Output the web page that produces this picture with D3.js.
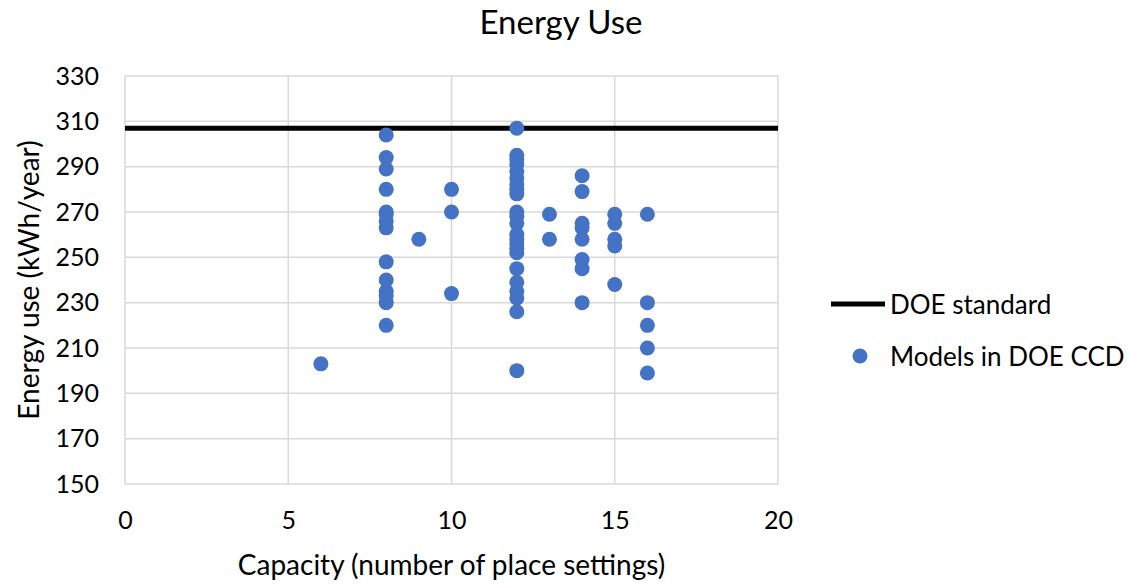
<!DOCTYPE html>
<html>
<head>
<meta charset="utf-8">
<script src="https://cdn.jsdelivr.net/npm/d3@7"></script>
<style>
  body { margin: 0; background: #fff; }
  text { font-family: Lato, "Open Sans", sans-serif; fill: #000; }
</style>
</head>
<body>
<div id="chart-area"></div>
<script>
// capacity (place settings) and energy use (kWh/year) for each model
var capacity = [6,
    8, 8, 8, 8, 8, 8, 8, 8, 8, 8, 8, 8, 8, 8,
    9,
    10, 10, 10,
    12, 12, 12, 12, 12, 12, 12, 12, 12, 12, 12, 12, 12, 12, 12, 12, 12, 12, 12, 12, 12, 12, 12,
    13, 13,
    14, 14, 14, 14, 14, 14, 14, 14,
    15, 15, 15, 15, 15,
    16, 16, 16, 16, 16];
var energy = [203,
    304, 294, 289, 280, 270, 269, 266, 263, 248, 240, 235, 233, 230, 220,
    258,
    280, 270, 234,
    307, 295, 293, 291, 288, 285, 282, 280, 278, 270, 268, 265, 260, 258, 256, 254, 252, 245, 239, 235, 232, 226, 200,
    269, 258,
    286, 279, 265, 263, 258, 249, 245, 230,
    269, 265, 258, 255, 238,
    269, 230, 220, 210, 199];
var doeStandard = 307;

var xTicks = [0, 5, 10, 15, 20];
var yTicks = [150, 170, 190, 210, 230, 250, 270, 290, 310, 330];

var width = 1130, height = 585;
var plotLeft = 125, plotRight = 778, plotTop = 76, plotBottom = 484;

var svg = d3.select("#chart-area").append("svg")
    .attr("width", width)
    .attr("height", height);

var x = d3.scaleLinear().domain([0, 20]).range([plotLeft, plotRight]);
var y = d3.scaleLinear().domain([150, 330]).range([plotBottom, plotTop]);

// gridlines
svg.append("g").selectAll("line").data(yTicks).enter().append("line")
    .attr("x1", plotLeft).attr("x2", plotRight)
    .attr("y1", d => y(d)).attr("y2", d => y(d))
    .attr("stroke", "#d9d9d9").attr("stroke-width", 1.5);
svg.append("g").selectAll("line").data(xTicks).enter().append("line")
    .attr("x1", d => x(d)).attr("x2", d => x(d))
    .attr("y1", plotTop).attr("y2", plotBottom)
    .attr("stroke", "#d9d9d9").attr("stroke-width", 1.5);

// axes (labels only, Excel style)
var xAxis = svg.append("g")
    .attr("transform", "translate(0," + plotBottom + ")")
    .call(d3.axisBottom(x).tickValues(xTicks).tickSize(0).tickPadding(27));
var yAxis = svg.append("g")
    .attr("transform", "translate(" + plotLeft + ",0)")
    .call(d3.axisLeft(y).tickValues(yTicks).tickSize(0).tickPadding(26));
[xAxis, yAxis].forEach(g => {
    g.select(".domain").remove();
    g.selectAll("text").attr("font-family", "Lato").attr("font-size", 25).attr("fill", "#000");
});

// DOE standard line
svg.append("line")
    .attr("x1", x(0)).attr("x2", x(20))
    .attr("y1", y(doeStandard)).attr("y2", y(doeStandard))
    .attr("stroke", "#000").attr("stroke-width", 5);

// points
var points = capacity.map((c, i) => ({ c: c, e: energy[i] }));
svg.append("g").selectAll("circle").data(points).enter().append("circle")
    .attr("cx", d => x(d.c))
    .attr("cy", d => y(d.e))
    .attr("r", 7.5)
    .attr("fill", "#4472c4");

// title and axis labels
svg.append("text").attr("x", 561).attr("y", 21)
    .attr("text-anchor", "middle").attr("dominant-baseline", "central")
    .attr("font-size", 33).text("Energy Use");
svg.append("text").attr("x", (plotLeft + plotRight) / 2).attr("y", 564)
    .attr("text-anchor", "middle").attr("dominant-baseline", "central")
    .attr("font-size", 28).text("Capacity (number of place settings)");
svg.append("text")
    .attr("transform", "translate(28," + (plotTop + plotBottom) / 2 + ") rotate(-90)")
    .attr("text-anchor", "middle").attr("dominant-baseline", "central")
    .attr("font-size", 28).text("Energy use (kWh/year)");

// legend
svg.append("line").attr("x1", 831).attr("x2", 885).attr("y1", 304).attr("y2", 304)
    .attr("stroke", "#000").attr("stroke-width", 5);
svg.append("text").attr("x", 890).attr("y", 304).attr("dominant-baseline", "central")
    .attr("font-size", 26).text("DOE standard");
svg.append("circle").attr("cx", 860).attr("cy", 356).attr("r", 7.5).attr("fill", "#4472c4");
svg.append("text").attr("x", 890).attr("y", 356).attr("dominant-baseline", "central")
    .attr("font-size", 26).text("Models in DOE CCD");
</script>
</body>
</html>
